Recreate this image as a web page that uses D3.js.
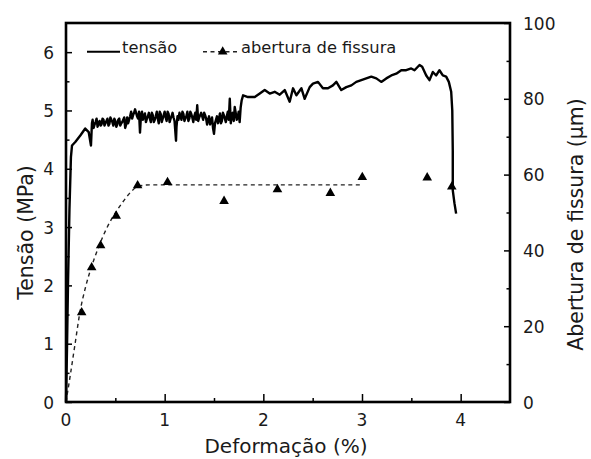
<!DOCTYPE html>
<html>
<head>
<meta charset="utf-8">
<script src="https://cdn.jsdelivr.net/npm/d3@7"></script>
<style>
  html, body { margin: 0; padding: 0; background: #fff; }
  svg { display: block; }
  text { font-family: "DejaVu Sans", "Liberation Sans", Arial, sans-serif; fill: #1a1a1a; }
</style>
</head>
<body>
<svg id="chart" width="591" height="459"></svg>
<script>
// ---------- DATA ----------
const xTicks = [0, 1, 2, 3, 4];
const yLeftTicks = [0, 1, 2, 3, 4, 5, 6];
const yRightTicks = [0, 20, 40, 60, 80, 100];
const legendLabels = ["tensão", "abertura de fissura"];
const xTitle = "Deformação (%)";
const yLeftTitle = "Tensão (MPa)";
const yRightTitle = "Abertura de fissura (µm)";

// stress curve: strain (%) and stress (MPa)
const stressStrain = [
  0.0, 0.01, 0.02, 0.035, 0.05, 0.061, 0.094, 0.145, 0.195, 0.23, 0.253,
  0.263, 0.28, 0.30, 0.32, 0.34, 0.36, 0.38, 0.40, 0.42, 0.44, 0.46, 0.48, 0.50,
  0.52, 0.54, 0.56, 0.58, 0.60, 0.62, 0.64, 0.66, 0.68, 0.70, 0.72, 0.74, 0.75,
  0.76, 0.78, 0.80, 0.82, 0.84, 0.86, 0.88, 0.90, 0.92, 0.94, 0.96, 0.98, 1.00,
  1.02, 1.04, 1.06, 1.08, 1.10, 1.115, 1.13, 1.15, 1.17, 1.19, 1.21, 1.23, 1.25,
  1.27, 1.29, 1.31, 1.33, 1.35, 1.37, 1.39, 1.41, 1.43, 1.45, 1.47, 1.49, 1.50,
  1.52, 1.54, 1.56, 1.58, 1.60, 1.62, 1.64, 1.66, 1.67, 1.69, 1.71, 1.73, 1.75,
  1.76, 1.77, 1.78, 1.795, 1.845, 1.913, 1.964, 2.014, 2.065, 2.115, 2.166,
  2.217, 2.267, 2.301, 2.335, 2.386, 2.419, 2.47, 2.503, 2.554, 2.604, 2.655,
  2.705, 2.74, 2.79, 2.841, 2.892, 2.942, 2.993, 3.043, 3.094, 3.145, 3.195,
  3.246, 3.297, 3.347, 3.398, 3.448, 3.499, 3.532, 3.583, 3.61, 3.651, 3.684,
  3.718, 3.752, 3.785, 3.819, 3.853, 3.88, 3.904, 3.915, 3.92, 3.92, 3.937, 3.954
];
const stressValues = [
  0.0, 0.9, 2.0, 3.3, 4.2, 4.40, 4.46, 4.57, 4.69, 4.63, 4.40,
  4.78, 4.70, 4.80, 4.72, 4.82, 4.76, 4.84, 4.78, 4.86, 4.77, 4.84, 4.74, 4.82,
  4.76, 4.86, 4.78, 4.84, 4.70, 4.88, 4.84, 4.98, 4.92, 5.02, 4.90, 4.98, 4.62,
  4.92, 4.84, 4.95, 4.86, 4.96, 4.80, 4.92, 4.84, 4.98, 4.78, 4.94, 4.86, 4.98,
  4.82, 4.94, 4.86, 4.96, 4.82, 4.48, 4.90, 4.96, 4.84, 4.94, 4.86, 4.98, 4.86,
  4.94, 4.80, 4.96, 5.09, 4.88, 4.96, 4.84, 4.92, 4.76, 4.90, 4.82, 4.70, 4.60,
  4.84, 4.78, 4.95, 4.82, 4.92, 4.80, 4.98, 5.20, 4.78, 4.96, 5.06, 4.84, 4.98,
  4.80, 5.05, 5.17, 5.26, 5.23, 5.23, 5.29, 5.35, 5.29, 5.32, 5.27,
  5.35, 5.15, 5.38, 5.26, 5.38, 5.20, 5.40, 5.46, 5.49, 5.38, 5.38,
  5.43, 5.49, 5.35, 5.40, 5.43, 5.49, 5.52, 5.55, 5.58, 5.55, 5.49,
  5.55, 5.60, 5.63, 5.69, 5.69, 5.72, 5.69, 5.78, 5.75, 5.60, 5.52,
  5.66, 5.60, 5.69, 5.60, 5.58, 5.49, 5.32, 5.00, 4.31, 3.63, 3.41, 3.23
];
// extra readings inside the noisy band (between the points above)
const noiseStrain = [
  0.27, 0.29, 0.31, 0.33, 0.35, 0.37, 0.39, 0.41, 0.43, 0.45, 0.47, 0.49, 0.51,
  0.53, 0.55, 0.57, 0.59, 0.61, 0.63, 0.65, 0.67, 0.69, 0.71, 0.73, 0.77, 0.79,
  0.81, 0.83, 0.85, 0.87, 0.89, 0.91, 0.93, 0.95, 0.97, 0.99, 1.01, 1.03, 1.05,
  1.07, 1.09, 1.12, 1.14, 1.16, 1.18, 1.20, 1.22, 1.24, 1.26, 1.28, 1.30, 1.32,
  1.34, 1.36, 1.38, 1.40, 1.42, 1.44, 1.46, 1.48, 1.51, 1.53, 1.55, 1.57, 1.59,
  1.61, 1.63, 1.65, 1.68, 1.70, 1.72, 1.74
];
const noiseValues = [
  4.84, 4.76, 4.86, 4.78, 4.74, 4.86, 4.74, 4.82, 4.74, 4.88, 4.80, 4.86, 4.72,
  4.84, 4.74, 4.80, 4.88, 4.76, 4.78, 4.90, 4.86, 4.96, 4.96, 4.86, 4.98, 4.90,
  4.80, 4.90, 4.86, 4.96, 4.80, 4.90, 4.86, 4.98, 4.80, 4.92, 4.88, 4.98, 4.80,
  4.90, 4.88, 4.72, 4.84, 4.90, 4.98, 4.82, 4.90, 4.82, 4.98, 4.88, 4.90, 4.84,
  4.82, 4.92, 4.90, 4.96, 4.86, 4.84, 4.76, 4.88, 4.78, 4.90, 4.84, 4.78, 4.96,
  4.86, 4.90, 4.84, 4.92, 4.82, 4.96, 4.88
];

// crack opening: measured points (triangles)
const crackStrain = [0.159, 0.26, 0.351, 0.509, 0.726, 1.029, 1.602, 2.143, 2.679, 3.003, 3.661, 3.91];
const crackOpening = [23.6, 35.5, 41.3, 49.1, 57.1, 58.0, 53.0, 56.1, 55.1, 59.3, 59.2, 56.8];

// crack opening: dashed fitted curve
const fitStrain = [0, 0.04, 0.09, 0.14, 0.2, 0.26, 0.32, 0.39, 0.46, 0.56, 0.65, 0.73, 0.85, 1.5, 2.2, 3.0];
const fitOpening = [0, 6.5, 15, 23.5, 30.5, 35.8, 40.2, 44.6, 48.2, 52.2, 55.2, 56.9, 57.3, 57.3, 57.3, 57.3];

// ---------- CHART ----------
const svg = d3.select("#chart");
const L = 66, R = 510, T = 23, B = 402;

const x = d3.scaleLinear().domain([0, 4.5]).range([L, R]);
const yL = d3.scaleLinear().domain([0, 6.5]).range([B, T]);
const yR = d3.scaleLinear().domain([0, 100]).range([B, T]);

// curves
const stressData = stressStrain.map((s, i) => [s, stressValues[i], i])
  .concat(noiseStrain.map((s, i) => [s, noiseValues[i], 1000 + i]))
  .sort((a, b) => a[0] - b[0] || a[2] - b[2]);
svg.append("path")
  .datum(stressData)
  .attr("fill", "none")
  .attr("stroke", "#000")
  .attr("stroke-width", 2.4)
  .attr("stroke-linejoin", "round")
  .attr("d", d3.line().x(d => x(d[0])).y(d => yL(d[1])));

const fitData = fitStrain.map((s, i) => [s, fitOpening[i]]);
svg.append("path")
  .datum(fitData)
  .attr("fill", "none")
  .attr("stroke", "#222")
  .attr("stroke-width", 1.4)
  .attr("stroke-dasharray", "4,3.5")
  .attr("d", d3.line().curve(d3.curveMonotoneX).x(d => x(d[0])).y(d => yR(d[1])));

const tri = d3.symbol().type(d3.symbolTriangle).size(40);
svg.append("g").selectAll("path")
  .data(crackStrain.map((s, i) => [s, crackOpening[i]]))
  .join("path")
  .attr("d", tri)
  .attr("fill", "#000")
  .attr("transform", d => `translate(${x(d[0])},${yR(d[1])})`);

// axes (ticks inward)
function styleAxis(g) {
  g.select(".domain").remove();
  g.selectAll(".tick line").attr("stroke", "#000").attr("stroke-width", 1.5);
  g.selectAll(".tick text").remove();
}
const xMinor = d3.range(0.5, 4.5, 1);
svg.append("g").attr("transform", `translate(0,${B})`)
  .call(d3.axisBottom(x).tickValues(xTicks).tickSizeInner(-8).tickSizeOuter(0)).call(styleAxis);
svg.append("g").attr("transform", `translate(0,${B})`)
  .call(d3.axisBottom(x).tickValues(xMinor).tickSizeInner(-4).tickSizeOuter(0)).call(styleAxis);
svg.append("g").attr("transform", `translate(${L},0)`)
  .call(d3.axisLeft(yL).tickValues(yLeftTicks).tickSizeInner(-6).tickSizeOuter(0)).call(styleAxis);
svg.append("g").attr("transform", `translate(${L},0)`)
  .call(d3.axisLeft(yL).tickValues(d3.range(0.5, 6.5, 1)).tickSizeInner(-3.5).tickSizeOuter(0)).call(styleAxis);
svg.append("g").attr("transform", `translate(${R},0)`)
  .call(d3.axisRight(yR).tickValues(yRightTicks).tickSizeInner(-6).tickSizeOuter(0)).call(styleAxis);
svg.append("g").attr("transform", `translate(${R},0)`)
  .call(d3.axisRight(yR).tickValues(d3.range(10, 100, 20)).tickSizeInner(-3.5).tickSizeOuter(0)).call(styleAxis);

// frame
svg.append("rect")
  .attr("x", L).attr("y", T).attr("width", R - L).attr("height", B - T)
  .attr("fill", "none").attr("stroke", "#000").attr("stroke-width", 2.6);

// tick labels
const fs = 17;
svg.append("g").selectAll("text").data(xTicks).join("text")
  .attr("x", d => x(d)).attr("y", 426).attr("text-anchor", "middle")
  .attr("font-size", fs).text(d => d);
svg.append("g").selectAll("text").data(yLeftTicks).join("text")
  .attr("x", 54).attr("y", d => yL(d) + 6.5).attr("text-anchor", "end")
  .attr("font-size", fs).text(d => d);
svg.append("g").selectAll("text").data(yRightTicks).join("text")
  .attr("x", 523).attr("y", d => yR(d) + 6.5).attr("text-anchor", "start")
  .attr("font-size", fs).text(d => d);

// titles
svg.append("text").attr("x", 286).attr("y", 453).attr("text-anchor", "middle")
  .attr("font-size", 20).text(xTitle);
svg.append("text").attr("transform", "translate(33,232.5) rotate(-90)")
  .attr("text-anchor", "middle").attr("font-size", 20.5).text(yLeftTitle);
svg.append("text").attr("transform", "translate(583,224.5) rotate(-90)")
  .attr("text-anchor", "middle").attr("font-size", 20.5).text(yRightTitle);

// legend
const lg = svg.append("g");
lg.append("line").attr("x1", 87).attr("x2", 120).attr("y1", 51.7).attr("y2", 51.7)
  .attr("stroke", "#000").attr("stroke-width", 2);
lg.append("text").attr("x", 122).attr("y", 53).attr("font-size", 16.3).text(legendLabels[0]);
lg.append("line").attr("x1", 203).attr("x2", 240).attr("y1", 51.7).attr("y2", 51.7)
  .attr("stroke", "#222").attr("stroke-width", 1.4).attr("stroke-dasharray", "4,3.5");
lg.append("path").attr("d", tri).attr("fill", "#000").attr("transform", "translate(222.7,51.7)");
lg.append("text").attr("x", 241).attr("y", 53).attr("font-size", 16.3).text(legendLabels[1]);
</script>
</body>
</html>
